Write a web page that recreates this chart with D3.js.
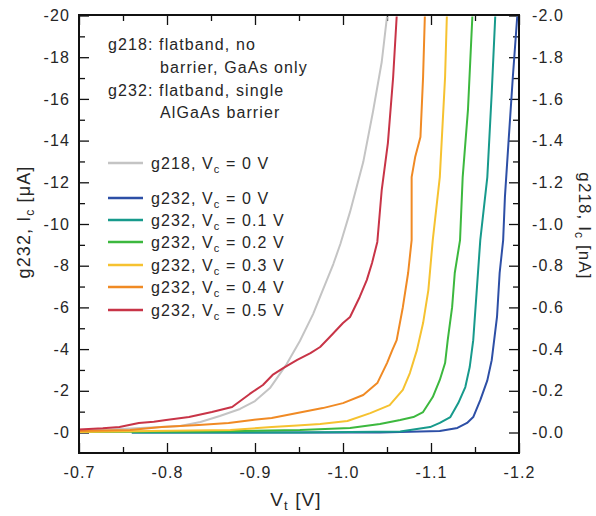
<!DOCTYPE html>
<html>
<head>
<meta charset="utf-8">
<script src="https://cdn.jsdelivr.net/npm/d3@7"></script>
<style>
body { margin: 0; background: #fff; }
text { font-family: "Liberation Sans", Arial, sans-serif; fill: #262626; letter-spacing: 1.1px; }
</style>
</head>
<body>
<div class="canvas"></div>
<script>
// tick values
const xMajor = [-0.7, -0.8, -0.9, -1.0, -1.1, -1.2]
const xMinor = [-0.75, -0.85, -0.95, -1.05, -1.15]
const yLeftMajor = [0, -2, -4, -6, -8, -10, -12, -14, -16, -18, -20]
const yLeftMinor = [-1, -3, -5, -7, -9, -11, -13, -15, -17, -19]
const yRightMajor = [0, -0.2, -0.4, -0.6, -0.8, -1.0, -1.2, -1.4, -1.6, -1.8, -2.0]
const yRightMinor = [-0.1, -0.3, -0.5, -0.7, -0.9, -1.1, -1.3, -1.5, -1.7, -1.9]

// g218, Vc = 0 V  (right axis, nA)
const g218_0 = [[-0.700,-0.007],[-0.758,-0.019],[-0.815,-0.031],[-0.838,-0.050],[-0.860,-0.079],
  [-0.883,-0.113],[-0.900,-0.151],[-0.917,-0.213],[-0.936,-0.328],[-0.951,-0.439],[-0.966,-0.568],
  [-0.977,-0.683],[-0.989,-0.808],[-0.997,-0.904],[-1.008,-1.058],[-1.023,-1.297],[-1.034,-1.537],
  [-1.044,-1.777],[-1.050,-1.995]]

// g232 series (left axis, uA)
const g232_00 = [[-0.760,0],[-1.042,0],[-1.110,-0.07],[-1.130,-0.22],[-1.141,-0.46],[-1.148,-0.74],
  [-1.156,-1.55],[-1.164,-2.50],[-1.169,-3.47],[-1.175,-5.54],[-1.178,-7.65],[-1.182,-9.23],
  [-1.184,-11.29],[-1.188,-13.88],[-1.193,-17.05],[-1.198,-19.95]]
const g232_01 = [[-0.760,0],[-0.951,0],[-1.065,-0.05],[-1.099,-0.26],[-1.110,-0.46],[-1.122,-0.74],
  [-1.131,-1.41],[-1.139,-2.18],[-1.144,-3.14],[-1.148,-4.43],[-1.152,-6.83],[-1.156,-9.23],
  [-1.164,-12.25],[-1.169,-16.28],[-1.173,-19.95]]
const g232_02 = [[-0.700,-0.02],[-0.838,-0.05],[-0.951,-0.12],[-1.008,-0.22],[-1.042,-0.41],
  [-1.065,-0.60],[-1.080,-0.74],[-1.091,-0.98],[-1.102,-1.70],[-1.110,-2.52],[-1.116,-3.33],
  [-1.119,-4.43],[-1.124,-6.01],[-1.127,-7.65],[-1.133,-9.23],[-1.136,-12.25],[-1.142,-15.47],
  [-1.147,-19.95]]
const g232_03 = [[-0.700,-0.02],[-0.781,-0.07],[-0.872,-0.12],[-0.919,-0.26],[-0.948,-0.34],
  [-0.974,-0.41],[-1.005,-0.55],[-1.031,-0.93],[-1.053,-1.31],[-1.068,-2.04],[-1.076,-2.85],
  [-1.084,-3.95],[-1.091,-5.25],[-1.097,-6.83],[-1.102,-9.23],[-1.110,-12.25],[-1.116,-17.05],
  [-1.118,-19.95]]
const g232_04 = [[-0.700,-0.07],[-0.758,-0.12],[-0.794,-0.26],[-0.836,-0.36],[-0.870,-0.46],
  [-0.897,-0.60],[-0.919,-0.70],[-0.948,-0.94],[-0.977,-1.17],[-1.000,-1.41],[-1.023,-1.80],
  [-1.039,-2.37],[-1.050,-3.33],[-1.056,-3.95],[-1.061,-4.43],[-1.068,-6.01],[-1.074,-7.65],
  [-1.078,-9.23],[-1.078,-12.25],[-1.082,-13.21],[-1.088,-14.17],[-1.091,-17.05],[-1.093,-19.95]]
const g232_05 = [[-0.700,-0.14],[-0.711,-0.17],[-0.727,-0.20],[-0.746,-0.26],[-0.768,-0.46],
  [-0.785,-0.52],[-0.799,-0.60],[-0.825,-0.74],[-0.851,-0.98],[-0.874,-1.22],[-0.894,-1.85],
  [-0.909,-2.28],[-0.920,-2.76],[-0.932,-3.09],[-0.948,-3.48],[-0.963,-3.81],[-0.974,-4.10],
  [-0.985,-4.58],[-1.000,-5.25],[-1.008,-5.54],[-1.019,-6.50],[-1.027,-7.31],[-1.033,-8.13],
  [-1.039,-9.14],[-1.044,-11.63],[-1.051,-13.88],[-1.057,-17.05],[-1.061,-19.95]]

const seriesNames = ["g218", "g232", "g232", "g232", "g232", "g232", "g232"]
const seriesVc = ["0", "0", "0.1", "0.2", "0.3", "0.4", "0.5"]
const seriesColors = ["#c4c4c4", "#2d4fa6", "#179a8c", "#3cb83e", "#f6c230", "#f08a24", "#c83447"]
const seriesData = [g218_0, g232_00, g232_01, g232_02, g232_03, g232_04, g232_05]

const svg = d3.select(".canvas")
    .append("svg")
    .attr("width", 596)
    .attr("height", 516)

// plot frame
const frame = {left: 79, right: 519, top: 15, bottom: 453}

const x = d3.scaleLinear().domain([-0.7, -1.2]).range([frame.left, frame.right])
const yL = d3.scaleLinear().domain([0, -20]).range([432.5, 15.5])
const yR = d3.scaleLinear().domain([0, -2]).range([432.5, 15.5])

const minus = d => d === 0 ? "-0" : "-" + Math.abs(d)
const minus1 = d => "-" + Math.abs(d).toFixed(1)

function styleAxis(g) {
    g.select(".domain").remove()
    g.selectAll("line").attr("stroke", "#111").attr("stroke-width", 1.3)
    g.selectAll("text").attr("font-size", 16).attr("fill", "#262626")
        .attr("font-family", null)
}

// bottom axis
svg.append("g").attr("transform", `translate(0, ${frame.bottom})`)
    .call(d3.axisBottom(x).tickValues(xMajor).tickSizeInner(-10).tickSizeOuter(0)
        .tickPadding(14).tickFormat(minus1))
    .call(styleAxis)
svg.append("g").attr("transform", `translate(0, ${frame.bottom})`)
    .call(d3.axisBottom(x).tickValues(xMinor).tickSizeInner(-6).tickSizeOuter(0).tickFormat(""))
    .call(styleAxis)
// top axis
svg.append("g").attr("transform", `translate(0, ${frame.top})`)
    .call(d3.axisTop(x).tickValues(xMajor).tickSizeInner(-10).tickSizeOuter(0).tickFormat(""))
    .call(styleAxis)
svg.append("g").attr("transform", `translate(0, ${frame.top})`)
    .call(d3.axisTop(x).tickValues(xMinor).tickSizeInner(-6).tickSizeOuter(0).tickFormat(""))
    .call(styleAxis)
// left axis
svg.append("g").attr("transform", `translate(${frame.left}, 0)`)
    .call(d3.axisLeft(yL).tickValues(yLeftMajor).tickSizeInner(-10).tickSizeOuter(0)
        .tickPadding(9).tickFormat(minus))
    .call(styleAxis)
svg.append("g").attr("transform", `translate(${frame.left}, 0)`)
    .call(d3.axisLeft(yL).tickValues(yLeftMinor).tickSizeInner(-6).tickSizeOuter(0).tickFormat(""))
    .call(styleAxis)
// right axis
svg.append("g").attr("transform", `translate(${frame.right}, 0)`)
    .call(d3.axisRight(yR).tickValues(yRightMajor).tickSizeInner(-10).tickSizeOuter(0)
        .tickPadding(13).tickFormat(minus1))
    .call(styleAxis)
svg.append("g").attr("transform", `translate(${frame.right}, 0)`)
    .call(d3.axisRight(yR).tickValues(yRightMinor).tickSizeInner(-6).tickSizeOuter(0).tickFormat(""))
    .call(styleAxis)

// clip for curves
svg.append("clipPath").attr("id", "plotclip")
    .append("rect")
    .attr("x", frame.left).attr("y", frame.top)
    .attr("width", frame.right - frame.left).attr("height", frame.bottom - frame.top)

const curves = svg.append("g").attr("clip-path", "url(#plotclip)")
seriesData.forEach((data, i) => {
    const yScale = i === 0 ? yR : yL
    const line = d3.line().x(d => x(d[0])).y(d => yScale(d[1]))
    curves.append("path")
        .datum(data)
        .attr("d", line)
        .attr("fill", "none")
        .attr("stroke", seriesColors[i])
        .attr("stroke-width", 2)
        .attr("stroke-linejoin", "round")
})

// frame on top
svg.append("rect")
    .attr("x", frame.left).attr("y", frame.top)
    .attr("width", frame.right - frame.left).attr("height", frame.bottom - frame.top)
    .attr("fill", "none").attr("stroke", "#111").attr("stroke-width", 2)

// sample description
const notes = [
    {t: "g218: flatband, no", x: 108, y: 50},
    {t: "barrier, GaAs only", x: 160, y: 73},
    {t: "g232: flatband, single", x: 108, y: 96},
    {t: "AlGaAs barrier", x: 160, y: 118}
]
svg.selectAll(".note").data(notes).enter().append("text")
    .attr("class", "note")
    .attr("x", d => d.x).attr("y", d => d.y)
    .attr("font-size", 16)
    .text(d => d.t)

// legend
const legendY = [163, 198, 220, 242, 265, 287, 310]
const legend = svg.selectAll(".legend").data(seriesNames).enter().append("g")
    .attr("class", "legend")
    .attr("transform", (d, i) => `translate(108, ${legendY[i]})`)
legend.append("line")
    .attr("x1", 0).attr("x2", 35).attr("y1", 0).attr("y2", 0)
    .attr("stroke", (d, i) => seriesColors[i]).attr("stroke-width", 2.5)
const lt = legend.append("text").attr("x", 43).attr("y", 5.5).attr("font-size", 16)
lt.append("tspan").text(d => d + ", V")
lt.append("tspan").attr("font-size", 11).attr("dy", 4).text("c")
lt.append("tspan").attr("dy", -4).text((d, i) => " = " + seriesVc[i] + " V")

// axis titles
const xt = svg.append("text").attr("x", 296).attr("y", 506)
    .attr("text-anchor", "middle").attr("font-size", 19)
xt.append("tspan").text("V")
xt.append("tspan").attr("font-size", 13).attr("dy", 4).text("t")
xt.append("tspan").attr("dy", -4).text(" [V]")

const ylt = svg.append("text").attr("transform", "translate(30, 222) rotate(-90)")
    .attr("text-anchor", "middle").attr("font-size", 18)
ylt.append("tspan").text("g232, I")
ylt.append("tspan").attr("font-size", 12).attr("dy", 4).text("c")
ylt.append("tspan").attr("dy", -4).text(" [μA]")

const yrt = svg.append("text").attr("transform", "translate(579, 226) rotate(90)")
    .attr("text-anchor", "middle").attr("font-size", 17)
yrt.append("tspan").text("g218, I")
yrt.append("tspan").attr("font-size", 12).attr("dy", 4).text("c")
yrt.append("tspan").attr("dy", -4).text(" [nA]")
</script>
</body>
</html>
